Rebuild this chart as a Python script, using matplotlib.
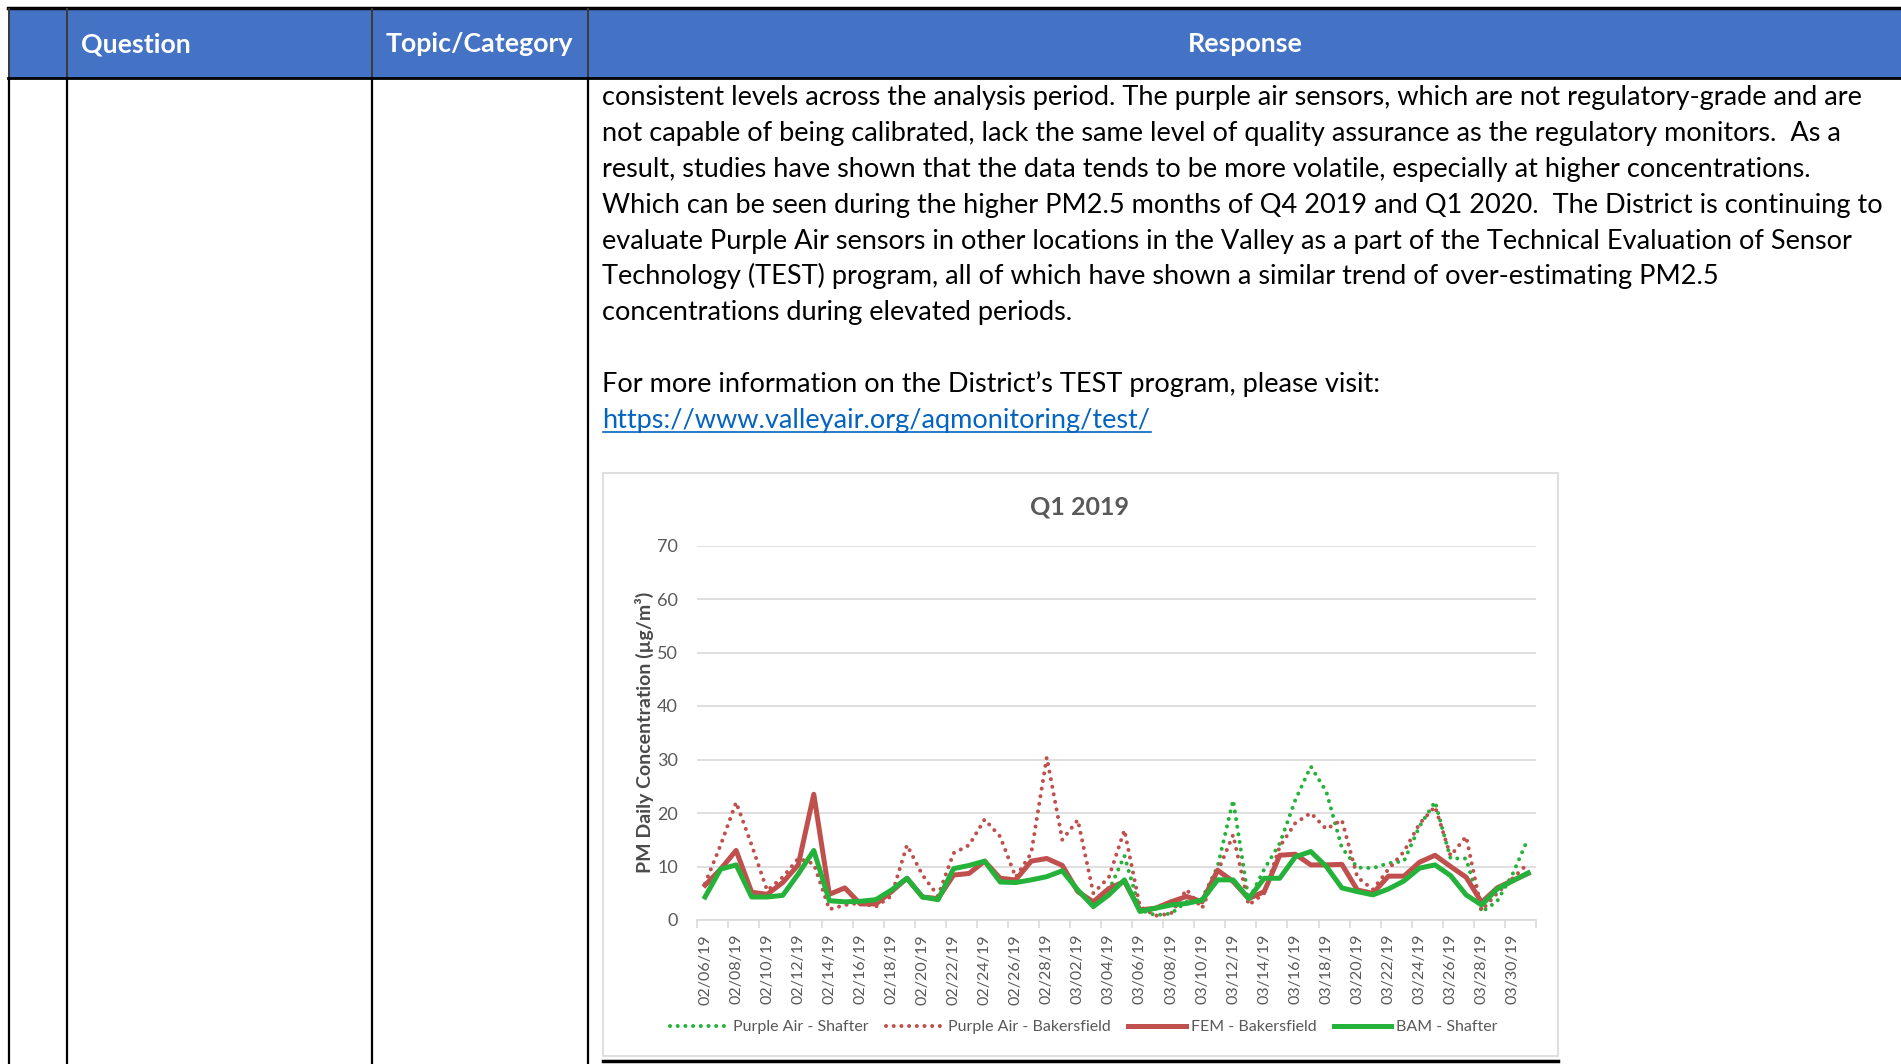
import numpy as np
import pandas as pd
import matplotlib
matplotlib.use('Agg')
import matplotlib.pyplot as plt
from matplotlib.patches import Rectangle

plt.rcParams['font.family'] = ['Lato', 'DejaVu Sans']

# categories (one per day)
dates = list(pd.date_range('2019-02-06', '2019-03-31').strftime('%m/%d/%y'))

nan = np.nan
pa_shafter = [nan] * 26 + [5.5, 12.0, 1.9, 0.9, 1.2, 3.4, 4.0, 10.0, 22.4, 3.7,
                           9.5, 14.3, 22.4, 28.7, 24.0, 13.5, 9.8, 9.7, 10.6, 11.0,
                           17.5, 22.1, 11.5, 11.5, 1.5, 3.5, 8.6, 15.3]
pa_bakersfield = [6.8, 14.0, 22.0, 14.0, 5.5, 8.0, 11.5, 10.5, 2.0, 2.8,
                  3.2, 2.5, 4.5, 14.0, 8.4, 4.5, 12.5, 14.0, 18.8, 15.6,
                  8.0, 12.5, 30.4, 15.0, 18.7, 5.0, 8.0, 16.8, 2.5, 0.8,
                  1.2, 5.7, 2.2, 9.0, 15.9, 2.8, 5.0, 13.7, 18.1, 20.0,
                  17.0, 18.7, 8.0, 5.7, 9.5, 12.8, 18.0, 21.2, 12.0, 15.6,
                  1.8, 5.0, 7.8, 10.6]
fem_bakersfield = [6.5, 9.5, 13.0, 5.2, 4.8, 7.0, 10.3, 23.5, 4.8, 6.0,
                   3.0, 3.0, 5.3, 7.8, 4.3, 4.0, 8.4, 8.7, 11.0, 7.8,
                   7.5, 11.0, 11.5, 10.2, 5.3, 3.4, 5.9, 7.2, 1.9, 2.2,
                   3.4, 4.4, 3.4, 9.3, 7.2, 4.0, 5.3, 12.1, 12.3, 10.3,
                   10.3, 10.4, 5.6, 5.0, 8.2, 8.2, 10.8, 12.1, 10.0, 8.0,
                   3.3, 6.0, 7.4, 8.7]
bam_shafter = [4.3, 9.5, 10.3, 4.3, 4.3, 4.6, 8.6, 13.0, 3.6, 3.4,
               3.5, 3.8, 5.6, 7.8, 4.3, 3.8, 9.6, 10.2, 11.0, 7.1,
               7.0, 7.5, 8.1, 9.2, 5.6, 2.5, 4.7, 7.5, 1.6, 2.2,
               2.8, 3.1, 3.7, 7.5, 7.5, 4.0, 7.8, 7.8, 11.8, 12.8,
               10.0, 6.0, 5.3, 4.7, 5.8, 7.3, 9.7, 10.3, 8.3, 4.7,
               2.8, 5.8, 7.3, 8.8]

body_lines = [
    "consistent levels across the analysis period. The purple air sensors, which are not regulatory-grade and are",
    "not capable of being calibrated, lack the same level of quality assurance as the regulatory monitors.  As a",
    "result, studies have shown that the data tends to be more volatile, especially at higher concentrations.",
    "Which can be seen during the higher PM2.5 months of Q4 2019 and Q1 2020.  The District is continuing to",
    "evaluate Purple Air sensors in other locations in the Valley as a part of the Technical Evaluation of Sensor",
    "Technology (TEST) program, all of which have shown a similar trend of over-estimating PM2.5",
    "concentrations during elevated periods.",
    "",
    "For more information on the District\u2019s TEST program, please visit:",
]
link = "https://www.valleyair.org/aqmonitoring/test/"

red = '#C0504D'
green = '#25B23A'
gray_txt = '#595959'
grid_c = '#D9D9D9'

W, H = 1901, 1064
fig = plt.figure(figsize=(W / 100, H / 100), dpi=100)
renderer = fig.canvas.get_renderer()

# page / table drawn in pixel coords
bg = fig.add_axes([0, 0, 1, 1])
bg.set_xlim(0, W)
bg.set_ylim(H, 0)
bg.axis('off')

bg.add_patch(Rectangle((8, 9), W - 8, 69, color='#4472C4', lw=0))
bg.plot([8, W], [8, 8], color='black', lw=2.5)
bg.plot([8, W], [78, 78], color='black', lw=2)
for xc in [8.5, 66.7, 372, 588]:
    bg.plot([xc, xc], [9, 77], color='#3a3a3a', lw=1.4)
    bg.plot([xc, xc], [78, H], color='black', lw=1.6)

hdr = [bg.text(81, 52, 'Question', color='white', fontweight='bold', fontsize=18, va='baseline'),
       bg.text(385.5, 52, 'Topic/Category', color='white', fontweight='bold', fontsize=18, va='baseline'),
       bg.text(1245, 52, 'Response', color='white', fontweight='bold', fontsize=18, va='baseline', ha='center')]
fs = 18 * 188 / hdr[1].get_window_extent(renderer).width
for t in hdr:
    t.set_fontsize(fs)

baselines = [105.5, 141.2, 177, 212.8, 248.5, 284.3, 320, 356, 391.6]
texts = [bg.text(602.5, b, s, fontsize=20, va='baseline', color='black') for s, b in zip(body_lines, baselines)]
fs = 20 * 1266 / texts[0].get_window_extent(renderer).width
for t in texts:
    t.set_fontsize(fs)
lt = bg.text(602.5, 428, link, fontsize=fs, va='baseline', color='#0563C1')
bb = lt.get_window_extent(renderer)
bg.plot([bb.x0, bb.x1], [431.5, 431.5], color='#0563C1', lw=1.2)

# chart frame
bg.add_patch(Rectangle((603, 473), 955, 583, fill=False, ec=grid_c, lw=1.2))
bg.plot([603, 1558], [1061, 1061], color='black', lw=2.5)
bg.text(1080, 514, 'Q1 2019', ha='center', va='baseline', fontsize=18,
        fontweight='bold', color=gray_txt)

ax = fig.add_axes([697.3 / W, 1 - 920 / H, (1536 - 697.3) / W, (920 - 545.5) / H])
ax.set_facecolor('none')
x = np.arange(len(dates))
dot = (0, (0.01, 1.9))
ax.plot(x, pa_shafter, color=green, lw=2.9, linestyle=dot, dash_capstyle='round',
        label='Purple Air - Shafter')
ax.plot(x, pa_bakersfield, color=red, lw=2.9, linestyle=dot, dash_capstyle='round',
        label='Purple Air - Bakersfield')
ax.plot(x, fem_bakersfield, color=red, lw=3.6, label='FEM - Bakersfield')
ax.plot(x, bam_shafter, color=green, lw=3.6, label='BAM - Shafter')

ax.set_ylim(0, 70)
ax.set_yticks(range(0, 71, 10))
ax.set_xlim(-0.5, len(dates) - 0.5)
ax.set_xticks(np.arange(-0.5, len(dates), 2))
ax.set_xticklabels([])
ax.set_xticks(x[::2], minor=True)
ax.set_xticklabels(dates[::2], minor=True, rotation=90)
ax.tick_params(axis='x', which='major', length=6, color=grid_c, width=1.2)
ax.tick_params(axis='x', which='minor', length=0, pad=10, labelsize=11.5, labelcolor=gray_txt)
ax.tick_params(axis='y', length=0, pad=14, labelsize=13, labelcolor=gray_txt)
ax.grid(axis='y', color=grid_c, lw=1.2)
ax.set_axisbelow(True)
for s in ['left', 'right', 'top']:
    ax.spines[s].set_visible(False)
ax.spines['bottom'].set_color(grid_c)
ax.spines['bottom'].set_linewidth(1.2)

ax.set_ylabel('PM Daily Concentration (\u00b5g/m\u00b3)', fontsize=14, color='#4a4a4a',
              fontweight='bold')
ax.yaxis.set_label_coords(-0.052, 0.5)

ax.legend(loc='center', bbox_to_anchor=(1084 / W, 1 - 1027 / H), bbox_transform=fig.transFigure,
          ncol=4, frameon=False, fontsize=11.5, handlelength=3.6, handletextpad=0.3,
          columnspacing=1.1, labelcolor=gray_txt)

fig.savefig('out.png', dpi=100)
